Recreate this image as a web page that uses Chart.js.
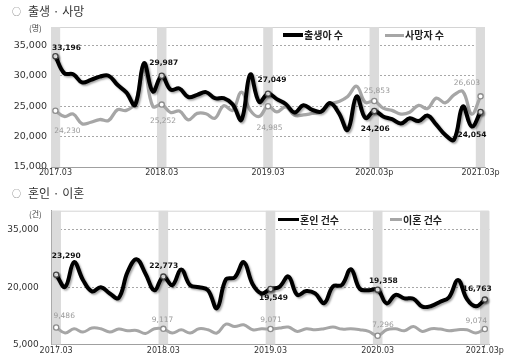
<!DOCTYPE html>
<html><head><meta charset="utf-8">
<script src="https://cdn.jsdelivr.net/npm/chart.js@4.4.1/dist/chart.umd.min.js"></script>
<style>
html,body{margin:0;padding:0;background:#fff;width:512px;height:363px;overflow:hidden;font-family:"Noto Sans CJK KR","DejaVu Sans",sans-serif;}
canvas{position:absolute;left:0;}
.t{position:absolute;white-space:nowrap;line-height:1;}
.title{left:12px;font-size:12px;color:#333;}
.title .c{font-size:9px;color:#777;margin-right:7px;vertical-align:1px;}
.unit{left:29px;font-size:8px;color:#444;}
.leg{font-size:10px;font-weight:bold;color:#222;height:12px;line-height:12px;}
.ln{position:absolute;}
</style></head>
<body>
<canvas id="c1" width="512" height="182" style="top:0"></canvas>
<canvas id="c2" width="512" height="181" style="top:182px"></canvas>

<div class="t title" style="top:5px"><span class="c">○</span>출생 · 사망</div>
<div class="t unit" style="top:24px">(명)</div>
<div class="ln" style="left:283px;top:33px;width:20px;height:3.5px;background:#000"></div>
<div class="t leg" style="left:304px;top:29px">출생아 수</div>
<div class="ln" style="left:385px;top:33.5px;width:19px;height:3px;background:#a6a6a6"></div>
<div class="t leg" style="left:405px;top:29px">사망자 수</div>

<div class="t title" style="top:187px"><span class="c">○</span>혼인 · 이혼</div>
<div class="t unit" style="top:210px">(건)</div>
<div class="ln" style="left:278px;top:217.5px;width:21px;height:3.5px;background:#000"></div>
<div class="t leg" style="left:300px;top:213.5px">혼인 건수</div>
<div class="ln" style="left:390px;top:218px;width:12px;height:3px;background:#a6a6a6"></div>
<div class="t leg" style="left:403px;top:213.5px">이혼 건수</div>

<script>
// ---- categories ----
const months = [];
for (let k = 0; k < 49; k++) {
  const y = 2017 + Math.floor((k + 2) / 12);
  const m = ((k + 2) % 12) + 1;
  months.push(y + '.' + String(m).padStart(2, '0'));
}
const marchIdx = [0, 12, 24, 36, 48];
const topTickLabels = ['2017.03', '2018.03', '2019.03', '2020.03p', '2021.03p'];
const bottomTickLabels = ['2017.03', '2018.03', '2019.03', '2020.03', '2021.03p'];
const topYTicks = [15000, 20000, 25000, 30000, 35000];
const bottomYTicks = [5000, 20000, 35000];

// ---- series ----
const births = [33196,30400,30250,28900,29300,29850,30000,28500,27250,25200,
  32050,27400,29987,27700,27900,26500,26850,27300,26300,26300,
  25300,22750,30200,25700,27049,26150,25350,23950,25150,24400,
  24100,25500,23850,21100,26600,23050,24206,23300,22850,22150,
  23000,22550,23450,21950,20300,19500,24950,21650,24054];
const deaths = [24230,23300,23700,22100,22350,22800,22640,24400,24300,25500,
  31000,24950,25252,23950,24200,22750,23800,23750,23000,25080,
  24300,27300,24300,23300,24985,24050,24880,23500,23550,23800,
  24050,25350,25750,26580,28270,25620,25853,24670,24300,23700,
  24000,25130,24600,26310,25550,26850,27400,23700,26603];
const marriages = [23290,20080,26540,21900,18900,20000,18370,17200,24000,27300,
  23540,19220,22773,20520,24600,20520,20000,19220,14490,22000,
  22580,26540,20800,18370,19549,20100,22800,18000,19000,18370,
  15860,20200,20600,24700,19570,19220,19358,15780,18000,17080,
  17000,14920,15100,16200,17400,21900,16860,15000,16763];
const divorces = [9486,8030,9140,8280,9320,9140,8290,9060,8620,8700,
  7920,9140,9117,8030,8880,8030,9140,8880,8030,10350,
  9740,10170,8880,9140,9071,9320,9580,8440,9140,8880,
  9140,9580,9060,9140,8880,8440,7296,8880,9140,8620,
  9740,8440,9140,9060,8620,8880,8880,8030,9074];

// ---- label placement (pixel offsets from the point) ----
const labelOffsets = {
  births:    [[11,-8.3],[2,-12.7],[4,-13.3],[1,18.3],[-8.6,22.7]],
  deaths:    [[12,20.6],[1.3,16.4],[1.5,22.3],[2.5,-10],[-13.6,-13.4]],
  marriages: [[10,-19],[0.4,-10.7],[3,9.6],[5.7,-8.6],[-7.7,-11]],
  divorces:  [[8,-11],[-0.8,-9.3],[0.5,-8.6],[5.4,-10.6],[-8.5,-7.6]]
};

const fmt = v => v.toLocaleString('en-US');

const helperPlugin = {
  id: 'helper',
  beforeDatasetsDraw(chart) {
    const a = chart.chartArea, ctx = chart.ctx;
    ctx.save();
    ctx.strokeStyle = '#d4d4d4';
    ctx.lineWidth = 1;
    ctx.beginPath();
    ctx.moveTo(a.left, a.top + 0.5);
    ctx.lineTo(a.right - 0.5, a.top + 0.5);
    ctx.lineTo(a.right - 0.5, a.bottom);
    ctx.stroke();
    ctx.restore();
  },
  beforeDatasetDraw(chart, args) {
    const ds = chart.data.datasets[args.index];
    if (ds.shadow) {
      const ctx = chart.ctx;
      ctx.save();
      ctx.shadowColor = 'rgba(0,0,0,0.35)';
      ctx.shadowBlur = 2;
      ctx.shadowOffsetX = 1.5;
      ctx.shadowOffsetY = 1.5;
    }
  },
  afterDatasetDraw(chart, args) {
    const ds = chart.data.datasets[args.index];
    if (ds.shadow) chart.ctx.restore();
  },
  afterDatasetsDraw(chart) {
    const ctx = chart.ctx;
    chart.data.datasets.forEach((ds, di) => {
      if (!ds.labelKey) return;
      const meta = chart.getDatasetMeta(di);
      const offs = labelOffsets[ds.labelKey];
      ctx.save();
      ctx.font = (ds.labelBold ? 'bold ' : '') + '7.5px "DejaVu Sans"';
      ctx.fillStyle = ds.labelColor;
      ctx.textAlign = 'center';
      ctx.textBaseline = 'middle';
      marchIdx.forEach((idx, j) => {
        const p = meta.data[idx];
        ctx.fillText(fmt(ds.data[idx]), p.x + offs[j][0], p.y + offs[j][1]);
      });
      ctx.restore();
    });
  }
};

function makeChart(id, cfg) {
  const bandData = months.map((_, i) => marchIdx.includes(i) ? [cfg.min, cfg.max] : null);
  const ptR = ctx => marchIdx.includes(ctx.dataIndex) ? 2.6 : 0;
  return new Chart(document.getElementById(id), {
    type: 'line',
    data: {
      labels: months,
      datasets: [
        { type: 'bar', data: bandData, backgroundColor: '#dbdbdb', barPercentage: 1, categoryPercentage: 1, order: 10 },
        { data: cfg.s1, borderColor: '#000', borderWidth: 4, tension: 0.4, order: 0, shadow: true,
          pointRadius: ptR, pointBackgroundColor: '#fff', pointBorderColor: '#444', pointBorderWidth: 1.3,
          labelKey: cfg.k1, labelBold: true, labelColor: '#111' },
        { data: cfg.s2, borderColor: '#a6a6a6', borderWidth: cfg.w2, tension: 0.4, order: 1,
          pointRadius: ptR, pointBackgroundColor: '#fff', pointBorderColor: '#8c8c8c', pointBorderWidth: 1.3,
          labelKey: cfg.k2, labelBold: false, labelColor: '#9a9a9a' }
      ]
    },
    options: {
      responsive: false, devicePixelRatio: 1, animation: false,
      layout: { padding: { top: cfg.padTop, right: cfg.padRight, left: 0, bottom: 0 } },
      plugins: { legend: { display: false }, tooltip: { enabled: false } },
      elements: { point: { hoverRadius: 0 } },
      scales: {
        x: {
          type: 'category', offset: true,
          afterFit: s => { s.height = cfg.xH; },
          grid: { offset: false, drawOnChartArea: false, drawTicks: true, tickLength: 3,
                  color: c => marchIdx.includes(c.index) ? '#888' : 'rgba(0,0,0,0)' },
          border: { display: true, color: '#a0a0a0', width: 1 },
          ticks: { autoSkip: false, maxRotation: 0, minRotation: 0, padding: cfg.xPad,
                   font: { family: 'DejaVu Sans', size: 8 }, color: '#333',
                   callback: (v, i) => { const j = marchIdx.indexOf(i); return j >= 0 ? cfg.tickLabels[j] : ''; } }
        },
        y: {
          min: cfg.min, max: cfg.max,
          afterBuildTicks: s => { s.ticks = cfg.yTicks.map(v => ({ value: v })); },
          afterFit: s => { s.width = cfg.yW; },
          grid: { drawTicks: false, lineWidth: 1,
                  color: c => c.index === 0 ? 'rgba(0,0,0,0)' : '#a8a8a8' },
          border: { display: true, color: '#a0a0a0', width: 1, dash: [2, 2] },
          ticks: { padding: cfg.yPad,
                   font: { family: 'DejaVu Sans', size: cfg.yFont }, color: '#333',
                   callback: v => fmt(v) }
        }
      }
    },
    plugins: [helperPlugin]
  });
}

makeChart('c1', { s1: births, s2: deaths, k1: 'births', k2: 'deaths', w2: 3.3,
  min: 15000, max: 38000, yTicks: topYTicks, padTop: 27, padRight: 27, xH: 15, xPad: -2, yW: 51, yPad: 4, yFont: 9.5,
  tickLabels: topTickLabels });
makeChart('c2', { s1: marriages, s2: divorces, k1: 'marriages', k2: 'divorces', w2: 3,
  min: 5000, max: 40000, yTicks: bottomYTicks, padTop: 28.7, padRight: 22.7, xH: 17, xPad: -1, yW: 51.7, yPad: 13, yFont: 9,
  tickLabels: bottomTickLabels });
</script>
</body></html>
